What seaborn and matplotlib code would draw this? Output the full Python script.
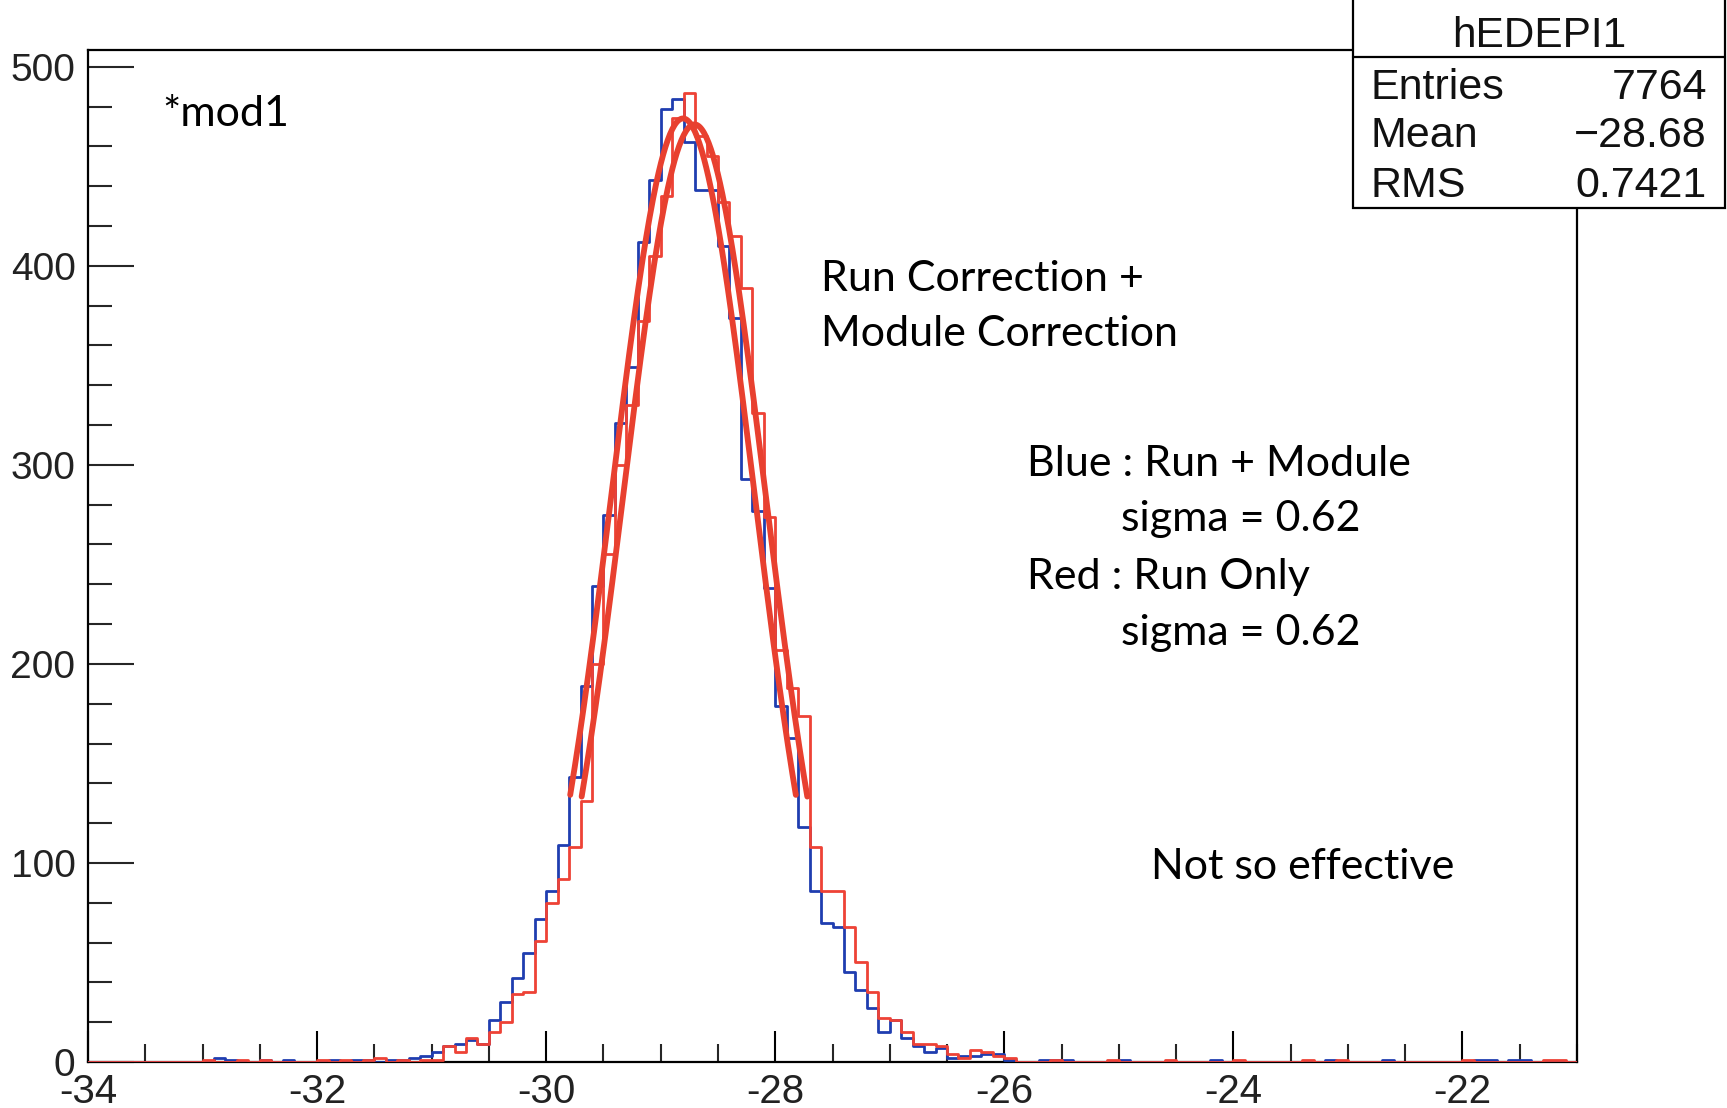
import numpy as np
import pandas as pd
import matplotlib
matplotlib.use("Agg")
import matplotlib.pyplot as plt
import seaborn as sns
from matplotlib.ticker import MultipleLocator
from matplotlib.patches import Rectangle
from matplotlib.lines import Line2D

# ---------------- data ----------------
x_min, x_max, bin_width = -34.0, -21.0, 0.1

blue_counts = [
    0, 0, 0, 0, 0, 0, 0, 0, 0, 0,
    0, 2, 1, 0, 0, 1, 0, 1, 0, 0,
    0, 1, 0, 1, 1, 0, 1, 1, 2, 3,
    5, 8, 9, 11, 9, 21, 30, 42, 55, 72,
    86, 109, 143, 189, 239, 275, 321, 349, 412, 443,
    479, 484, 462, 438, 438, 410, 374, 293, 277, 238,
    179, 163, 118, 86, 70, 68, 45, 36, 27, 15,
    21, 12, 8, 5, 7, 2, 3, 3, 4, 4,
    1, 0, 0, 1, 1, 1, 0, 0, 0, 0,
    1, 0, 0, 0, 0, 0, 0, 0, 1, 0,
    0, 0, 0, 0, 0, 0, 0, 0, 1, 0,
    0, 0, 0, 1, 0, 0, 0, 0, 0, 0,
    0, 1, 1, 0, 1, 1, 0, 0, 0, 0,
]

red_counts = [
    0, 0, 0, 0, 0, 0, 0, 0, 0, 0,
    1, 0, 0, 1, 0, 1, 0, 0, 0, 0,
    1, 0, 1, 0, 1, 2, 0, 1, 0, 1,
    1, 8, 5, 12, 9, 15, 20, 34, 35, 61,
    80, 92, 108, 131, 200, 255, 300, 330, 372, 405,
    435, 474, 487, 465, 455, 432, 415, 389, 326, 274,
    207, 188, 174, 108, 86, 86, 68, 50, 35, 22,
    21, 15, 9, 9, 8, 4, 2, 6, 5, 3,
    2, 0, 0, 0, 1, 0, 0, 0, 0, 1,
    0, 0, 0, 0, 1, 0, 0, 0, 0, 0,
    1, 0, 0, 0, 0, 0, 1, 0, 0, 1,
    0, 0, 0, 0, 0, 0, 0, 0, 0, 0,
    1, 0, 0, 0, 0, 0, 0, 1, 1, 0,
]

# Gaussian fits (amplitude, mean, sigma, fit range)
fit_amp = [474, 471]
fit_mean = [-28.805, -28.705]
fit_sigma = [0.62, 0.62]
fit_lo = [-29.79, -29.69]
fit_hi = [-27.82, -27.72]

stats_title = "hEDEPI1"
stats_labels = ["Entries", "Mean", "RMS"]
stats_values = ["7764", "\u221228.68", "0.7421"]

x_ticks = [-34, -32, -30, -28, -26, -24, -22]
y_ticks = [0, 100, 200, 300, 400, 500]

annotations = [
    ("*mod1", 162, 114),
    ("Run Correction +", 821, 279),
    ("Module Correction", 821, 334),
    ("Blue : Run + Module", 1027, 464),
    ("sigma = 0.62", 1121, 519),
    ("Red : Run Only", 1027, 577),
    ("sigma = 0.62", 1121, 633),
    ("Not so effective", 1151, 867),
]

# ---------------- style ----------------
sns.set_theme(style="white")
plt.rcParams["font.family"] = ["Liberation Sans", "DejaVu Sans"]
plt.rcParams["axes.unicode_minus"] = False

W, H = 1727, 1108
fig = plt.figure(figsize=(W / 100, H / 100), dpi=100)
ax = fig.add_axes([88 / W, 1 - 1062 / H, (1577 - 88) / W, (1062 - 50) / H])

BLUE = "#1f3db0"
RED = "#ee4236"
FITRED = "#e8402f"

n_bins = len(blue_counts)
centers = x_min + bin_width * (np.arange(n_bins) + 0.5)
df = pd.DataFrame({"x": centers, "blue": blue_counts, "red": red_counts})

sns.histplot(data=df, x="x", weights="blue", bins=n_bins, binrange=(x_min, x_max),
             element="step", fill=False, color=BLUE, linewidth=2.0, ax=ax, zorder=3)
sns.histplot(data=df, x="x", weights="red", bins=n_bins, binrange=(x_min, x_max),
             element="step", fill=False, color=RED, linewidth=2.0, ax=ax, zorder=4)

for a, m, s, lo, hi in zip(fit_amp, fit_mean, fit_sigma, fit_lo, fit_hi):
    xs = np.linspace(lo, hi, 200)
    ys = a * np.exp(-0.5 * ((xs - m) / s) ** 2)
    sns.lineplot(x=xs, y=ys, ax=ax, color=FITRED, linewidth=4.2,
                 sort=False, estimator=None, zorder=5)

ax.set_xlim(x_min, x_max)
ax.set_ylim(0, (1062 - 50) / 1.9906)
ax.set_xlabel("")
ax.set_ylabel("")

ax.xaxis.set_major_locator(plt.FixedLocator(x_ticks))
ax.xaxis.set_minor_locator(MultipleLocator(0.5))
ax.yaxis.set_major_locator(plt.FixedLocator(y_ticks))
ax.yaxis.set_minor_locator(MultipleLocator(20))
ax.set_xticklabels([f"{t:d}" for t in x_ticks])
ax.set_yticklabels([f"{t:d}" for t in y_ticks])

ax.tick_params(axis="x", which="major", direction="in", length=22, width=1.5,
               pad=8, labelsize=29, colors="black", bottom=True, top=False)
ax.tick_params(axis="x", which="minor", direction="in", length=13, width=1.5,
               bottom=True, top=False)
ax.tick_params(axis="y", which="major", direction="in", length=33, width=1.5,
               pad=9, labelsize=28, left=True, right=False)
ax.tick_params(axis="y", which="minor", direction="in", length=17, width=1.5,
               left=True, right=False)
for lab in ax.get_xticklabels() + ax.get_yticklabels():
    lab.set_color("#222222")

for sp in ax.spines.values():
    sp.set_color("black")
    sp.set_linewidth(1.6)
    sp.set_visible(True)

# annotations (Calibri-like)
for txt, px, py in annotations:
    fig.text(px / W, 1 - py / H, txt, fontsize=31, family=["Lato", "DejaVu Sans"],
             ha="left", va="center", color="black")

# stats box
bx0, bx1, by1 = 1353, 1725, 208
fig.patches.append(Rectangle((bx0 / W, 1 - by1 / H), (bx1 - bx0) / W, by1 / H + 0.02,
                             transform=fig.transFigure, facecolor="white",
                             edgecolor="black", linewidth=1.6, zorder=10, clip_on=False))
fig.lines.append(Line2D([bx0 / W, bx1 / W], [1 - 57 / H, 1 - 57 / H],
                        transform=fig.transFigure, color="black", linewidth=1.6, zorder=11))
fig.text((bx0 + bx1) / 2 / W, 1 - 36 / H, stats_title, fontsize=30.5, ha="center",
         va="center", color="#111111", zorder=12)
for lab, val, py in zip(stats_labels, stats_values, [88, 136, 186]):
    fig.text(1370 / W, 1 - py / H, lab, fontsize=31, ha="left", va="center",
             color="#111111", zorder=12)
    fig.text(1707 / W, 1 - py / H, val, fontsize=31, ha="right", va="center",
             color="#111111", zorder=12)

fig.savefig("out.png", dpi=100)
